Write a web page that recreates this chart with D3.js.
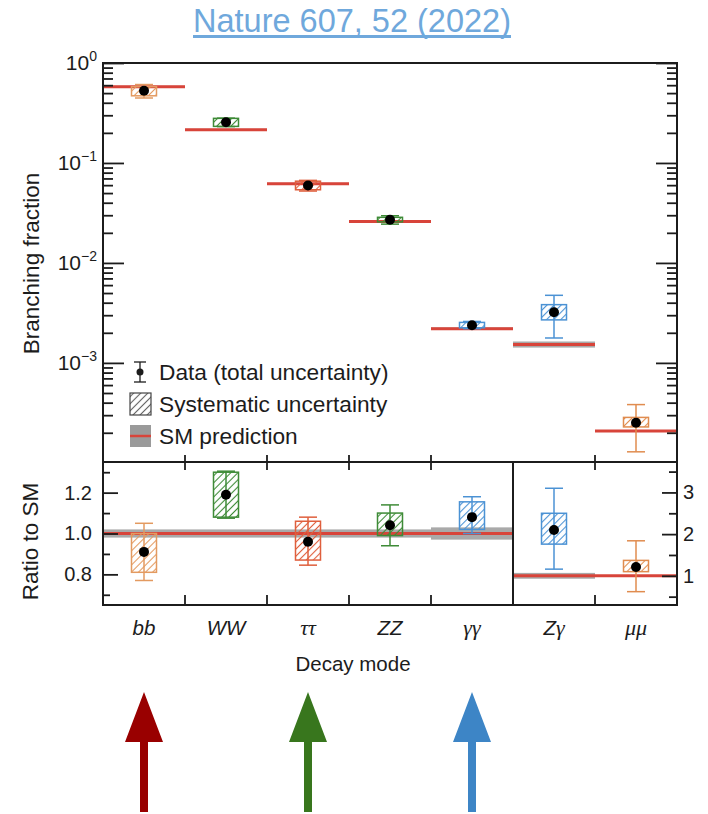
<!DOCTYPE html>
<html>
<head>
<meta charset="utf-8">
<script src="https://cdn.jsdelivr.net/npm/d3@7"></script>
<style>
  body { margin: 0; background: #fff; }
  svg { display: block; font-family: "Liberation Sans", Arial, sans-serif; }
</style>
</head>
<body>
<svg width="708" height="814"></svg>
<script>
// decay modes and values
const modes = ['bb', 'WW', 'ττ', 'ZZ', 'γγ', 'Zγ', 'μμ']
const modeColors = ['#e39a60', '#3e8b37', '#df5f3d', '#3e8b37', '#4b92d4', '#4b92d4', '#e08c4f']
const smBR = [0.58, 0.215, 0.062, 0.026, 0.0022, 0.00153, 0.000208]
const smUnc = [0.02, 0.02, 0.02, 0.02, 0.03, 0.07, 0.02]
const ratio = [0.91, 1.19, 0.96, 1.04, 1.08, 2.10, 1.21]
const sysLo = [0.81, 1.08, 0.87, 0.99, 1.02, 1.76, 1.10]
const sysHi = [1.00, 1.30, 1.06, 1.10, 1.155, 2.50, 1.37]
const totLo = [0.77, 1.075, 0.845, 0.94, 1.00, 1.16, 0.62]
const totHi = [1.05, 1.305, 1.08, 1.14, 1.18, 3.10, 1.84]
const ratioSide = ['left', 'left', 'left', 'left', 'left', 'right', 'right']

const leftRatioTicks = [0.8, 1.0, 1.2]
const leftRatioMinor = [0.7, 0.9, 1.1, 1.3]
const rightRatioTicks = [1, 2, 3]
const rightRatioMinor = [0.5, 1.5, 2.5, 3.5]
const brTicks = [1, 0.1, 0.01, 0.001]

const arrowModes = ['bb', 'ττ', 'γγ']
const arrowColors = ['#990000', '#38761d', '#3d85c6']

const legendItems = ['Data (total uncertainty)', 'Systematic uncertainty', 'SM prediction']

const ink = '#1c1c1c'
const plotL = 103, plotR = 677, plotT = 63, plotM = 462, plotB = 605

const svg = d3.select('svg')

const x = d3.scaleBand().domain(modes).range([plotL, plotR])
const yTop = d3.scaleLog().domain([1.02e-4, 1]).range([plotM, plotT])
const yLeft = d3.scaleLinear().domain([0.65, 1.35]).range([plotB, plotM])
const yRight = d3.scaleLinear().domain([0.3, 3.73]).range([plotB, plotM])
const ratioScale = i => ratioSide[i] === 'left' ? yLeft : yRight

const rows = modes.map((m, i) => ({
  mode: m, i, color: modeColors[i], sm: smBR[i], unc: smUnc[i],
  r: ratio[i], sLo: sysLo[i], sHi: sysHi[i], tLo: totLo[i], tHi: totHi[i]
}))

/* --------- hatch patterns --------- */
const defs = svg.append('defs')
const addHatch = (id, color) => {
  const p = defs.append('pattern')
    .attr('id', id)
    .attr('patternUnits', 'userSpaceOnUse')
    .attr('width', 5).attr('height', 5)
    .attr('patternTransform', 'rotate(45)')
  p.append('line')
    .attr('x1', 2.5).attr('y1', -1).attr('x2', 2.5).attr('y2', 6)
    .attr('stroke', color).attr('stroke-width', 1.1)
}
rows.forEach(d => addHatch('hatch' + d.i, d.color))
addHatch('hatchLegend', '#666')

/* --------- title --------- */
const title = svg.append('text')
  .attr('x', 352).attr('y', 32)
  .attr('text-anchor', 'middle')
  .attr('font-size', 32.5)
  .attr('fill', '#6fa8dc')
  .text('Nature 607, 52 (2022)')
const tw = title.node().getComputedTextLength()
svg.append('rect')
  .attr('x', 352 - tw / 2).attr('y', 35)
  .attr('width', tw).attr('height', 3)
  .attr('fill', '#6fa8dc')

/* --------- panels --------- */
function drawPanel(g, yOf) {
  // SM band + line
  g.selectAll('rect.band').data(rows).join('rect')
    .attr('class', 'band')
    .attr('x', d => x(d.mode)).attr('width', x.bandwidth())
    .attr('y', d => yOf(d, 1 + d.unc))
    .attr('height', d => yOf(d, 1 - d.unc) - yOf(d, 1 + d.unc))
    .attr('fill', '#a9a9a9')
  g.selectAll('line.sm').data(rows).join('line')
    .attr('class', 'sm')
    .attr('x1', d => x(d.mode)).attr('x2', d => x(d.mode) + x.bandwidth())
    .attr('y1', d => yOf(d, 1)).attr('y2', d => yOf(d, 1))
    .attr('stroke', '#d8443a').attr('stroke-width', 3)

  const cx = d => x(d.mode) + x.bandwidth() / 2
  const bw = 25, cw = 18

  // systematic box
  g.selectAll('rect.sys').data(rows).join('rect')
    .attr('class', 'sys')
    .attr('x', d => cx(d) - bw / 2).attr('width', bw)
    .attr('y', d => yOf(d, d.sHi))
    .attr('height', d => yOf(d, d.sLo) - yOf(d, d.sHi))
    .attr('fill', d => `url(#hatch${d.i})`)
    .attr('stroke', d => d.color).attr('stroke-width', 1.5)

  // total uncertainty
  const eb = g.selectAll('g.err').data(rows).join('g').attr('class', 'err')
    .attr('stroke', d => d.color).attr('stroke-width', 1.5)
  eb.append('line')
    .attr('x1', cx).attr('x2', cx)
    .attr('y1', d => yOf(d, d.tHi)).attr('y2', d => yOf(d, d.tLo))
  eb.append('line')
    .attr('x1', d => cx(d) - cw / 2).attr('x2', d => cx(d) + cw / 2)
    .attr('y1', d => yOf(d, d.tHi)).attr('y2', d => yOf(d, d.tHi))
  eb.append('line')
    .attr('x1', d => cx(d) - cw / 2).attr('x2', d => cx(d) + cw / 2)
    .attr('y1', d => yOf(d, d.tLo)).attr('y2', d => yOf(d, d.tLo))

  g.selectAll('circle.pt').data(rows).join('circle')
    .attr('class', 'pt')
    .attr('cx', cx).attr('cy', d => yOf(d, d.r))
    .attr('r', 5).attr('fill', '#000')
}

const topG = svg.append('g').attr('class', 'top-panel')
drawPanel(topG, (d, f) => yTop(d.sm * f))

const botG = svg.append('g').attr('class', 'bottom-panel')
drawPanel(botG, (d, f) => ratioScale(d.i)(f))

/* --------- axes --------- */
const styleAxis = (g) => {
  g.select('.domain').remove()
  g.selectAll('line').attr('stroke', ink).attr('stroke-width', 1.8)
  g.selectAll('text').attr('fill', ink).attr('font-size', 20)
    .attr('font-family', '"Liberation Sans", Arial, sans-serif')
}

const brMinor = yTop.ticks().filter(v => Math.abs(Math.log10(v) - Math.round(Math.log10(v))) > 1e-6)

svg.append('g').attr('transform', `translate(${plotL},0)`)
  .call(d3.axisLeft(yTop).tickValues(brMinor).tickSize(-10).tickFormat(''))
  .call(styleAxis)
svg.append('g').attr('transform', `translate(${plotL},0)`)
  .call(d3.axisLeft(yTop).tickValues(brTicks).tickSize(-21).tickFormat(''))
  .call(styleAxis)
svg.append('g').attr('transform', `translate(${plotR},0)`)
  .call(d3.axisRight(yTop).tickValues(brMinor).tickSize(-10).tickFormat(''))
  .call(styleAxis)
svg.append('g').attr('transform', `translate(${plotR},0)`)
  .call(d3.axisRight(yTop).tickValues(brTicks).tickSize(-21).tickFormat(''))
  .call(styleAxis)

// 10^n labels
const brLabels = svg.append('g').selectAll('text').data(brTicks).join('text')
  .attr('x', 97).attr('y', d => yTop(d) + 7)
  .attr('text-anchor', 'end')
  .attr('font-size', 21).attr('fill', ink)
brLabels.append('tspan').text('10')
brLabels.append('tspan')
  .attr('dy', -9).attr('font-size', 14)
  .text(d => Math.round(Math.log10(d)) === 0 ? '0' : '\u2212' + Math.abs(Math.round(Math.log10(d))))

svg.append('g').attr('transform', `translate(${plotL},0)`)
  .call(d3.axisLeft(yLeft).tickValues(leftRatioMinor).tickSize(-7).tickFormat(''))
  .call(styleAxis)
svg.append('g').attr('transform', `translate(${plotL},0)`)
  .call(d3.axisLeft(yLeft).tickValues(leftRatioTicks).tickSize(-15).tickPadding(11).tickFormat(d3.format('.1f')))
  .call(styleAxis)
svg.append('g').attr('transform', `translate(${plotR},0)`)
  .call(d3.axisRight(yRight).tickValues(rightRatioMinor).tickSize(-8).tickFormat(''))
  .call(styleAxis)
svg.append('g').attr('transform', `translate(${plotR},0)`)
  .call(d3.axisRight(yRight).tickValues(rightRatioTicks).tickSize(-15).tickPadding(6).tickFormat(d3.format('d')))
  .call(styleAxis)

// category boundary ticks
const bounds = modes.slice(1).map(m => x(m)).filter(v => Math.abs(v - x('Zγ')) > 1)
const frame = svg.append('g').attr('stroke', ink).attr('stroke-width', 1.8)
bounds.forEach(bx => {
  frame.append('line').attr('x1', bx).attr('x2', bx).attr('y1', plotM - 7).attr('y2', plotM + 8)
  frame.append('line').attr('x1', bx).attr('x2', bx).attr('y1', plotB - 10).attr('y2', plotB)
})

frame.append('rect')
  .attr('x', plotL).attr('y', plotT)
  .attr('width', plotR - plotL).attr('height', plotB - plotT)
  .attr('fill', 'none').attr('stroke-width', 2)
frame.append('line').attr('x1', plotL).attr('x2', plotR).attr('y1', plotM).attr('y2', plotM).attr('stroke-width', 2)
frame.append('line').attr('x1', x('Zγ')).attr('x2', x('Zγ')).attr('y1', plotM).attr('y2', plotB).attr('stroke-width', 2)

/* --------- category labels --------- */
const catLabels = svg.append('g').selectAll('text').data(modes).join('text')
  .attr('x', m => x(m) + x.bandwidth() / 2)
  .attr('y', 635)
  .attr('text-anchor', 'middle')
  .attr('font-size', 20.5).attr('font-style', 'italic').attr('fill', ink)
catLabels.each(function (m) {
  const t = d3.select(this)
  Array.from(m).forEach(ch => {
    const greek = /[\u0370-\u03ff]/.test(ch)
    t.append('tspan')
      .attr('font-family', greek ? '"Liberation Serif", "DejaVu Serif", serif' : '"Liberation Sans", Arial, sans-serif')
      .attr('font-size', greek ? 22 : 20.5)
      .text(ch)
  })
})

svg.append('text')
  .attr('x', (plotL + plotR) / 2 - 37).attr('y', 671)
  .attr('text-anchor', 'middle')
  .attr('font-size', 20.5).attr('fill', ink)
  .text('Decay mode')

svg.append('text')
  .attr('transform', `translate(39,${(plotT + plotM) / 2 + 1}) rotate(-90)`)
  .attr('text-anchor', 'middle')
  .attr('font-size', 22.5).attr('fill', ink)
  .text('Branching fraction')

svg.append('text')
  .attr('transform', `translate(38,${(plotM + plotB) / 2 + 8}) rotate(-90)`)
  .attr('text-anchor', 'middle')
  .attr('font-size', 22.5).attr('fill', ink)
  .text('Ratio to SM')

/* --------- legend --------- */
const lg = svg.append('g').attr('transform', 'translate(130,372)')
const rowH = 32
lg.selectAll('text').data(legendItems).join('text')
  .attr('x', 29).attr('y', (d, i) => i * rowH + 8)
  .attr('font-size', 22.7).attr('fill', ink)
  .text(d => d)
// data symbol
lg.append('line').attr('x1', 10).attr('x2', 10).attr('y1', -10).attr('y2', 10).attr('stroke', ink).attr('stroke-width', 1.3)
lg.append('line').attr('x1', 4).attr('x2', 16).attr('y1', -10).attr('y2', -10).attr('stroke', ink).attr('stroke-width', 1.3)
lg.append('line').attr('x1', 4).attr('x2', 16).attr('y1', 10).attr('y2', 10).attr('stroke', ink).attr('stroke-width', 1.3)
lg.append('circle').attr('cx', 10).attr('cy', 0).attr('r', 3.5).attr('fill', ink)
// systematic symbol
lg.append('rect').attr('x', 0).attr('y', rowH - 11).attr('width', 21).attr('height', 22)
  .attr('fill', 'url(#hatchLegend)').attr('stroke', '#444').attr('stroke-width', 1.2)
// SM symbol
lg.append('rect').attr('x', 0).attr('y', 2 * rowH - 11).attr('width', 21).attr('height', 22)
  .attr('fill', '#9a9a9a')
lg.append('line').attr('x1', 0).attr('x2', 21).attr('y1', 2 * rowH).attr('y2', 2 * rowH)
  .attr('stroke', '#d8443a').attr('stroke-width', 2.5)

/* --------- arrows --------- */
svg.append('g').selectAll('path').data(arrowModes).join('path')
  .attr('d', m => {
    const c = x(m) + x.bandwidth() / 2
    return `M${c},692 L${c + 19},742 L${c + 4},742 L${c + 4},812 L${c - 4},812 L${c - 4},742 L${c - 19},742 Z`
  })
  .attr('fill', (m, i) => arrowColors[i])
</script>
</body>
</html>
